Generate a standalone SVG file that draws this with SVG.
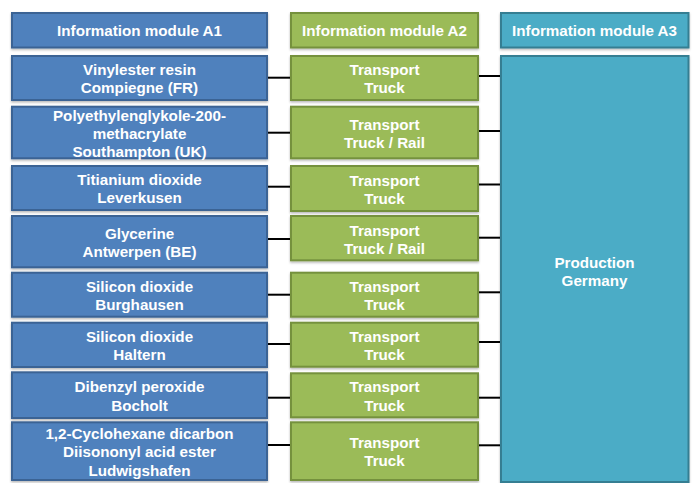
<svg xmlns="http://www.w3.org/2000/svg" width="695" height="483" viewBox="0 0 695 483">
<defs>
<filter id="sh" x="-5%" y="-10%" width="110%" height="130%">
<feDropShadow dx="0" dy="1.5" stdDeviation="0.8" flood-color="#000" flood-opacity="0.28"/>
</filter>
</defs>
<style>
.b{fill:#4F81BD;stroke:#3A6394;stroke-width:2}
.g{fill:#9BBB59;stroke:#74913E;stroke-width:2}
.t{fill:#4BACC6;stroke:#347E92;stroke-width:2}
rect{filter:url(#sh)}
text{font-family:"Liberation Sans",Arial,sans-serif;font-weight:bold;font-size:15.2px;fill:#fff;text-anchor:middle}
.c line{stroke:#000;stroke-width:2}
</style>
<rect width="695" height="483" fill="#fff" style="filter:none"/>
<g class="c" id="connectors">
<line x1="267" y1="77.7" x2="291" y2="77.7"/>
<line x1="478" y1="76" x2="501" y2="76"/>
<line x1="267" y1="132.7" x2="291" y2="132.7"/>
<line x1="478" y1="131" x2="501" y2="131"/>
<line x1="267" y1="186.7" x2="291" y2="186.7"/>
<line x1="478" y1="184.5" x2="501" y2="184.5"/>
<line x1="267" y1="239" x2="291" y2="239"/>
<line x1="478" y1="237.7" x2="501" y2="237.7"/>
<line x1="267" y1="294.7" x2="291" y2="294.7"/>
<line x1="478" y1="292.3" x2="501" y2="292.3"/>
<line x1="267" y1="344" x2="291" y2="344"/>
<line x1="478" y1="342" x2="501" y2="342"/>
<line x1="267" y1="397.7" x2="291" y2="397.7"/>
<line x1="478" y1="397.7" x2="501" y2="397.7"/>
<line x1="267" y1="445" x2="291" y2="445"/>
<line x1="478" y1="445.3" x2="501" y2="445.3"/>
</g>
<g id="hA1"><rect class="b" x="12" y="13" width="255" height="34.5"/><text x="139.5" y="35.8">Information module A1</text></g>
<g id="hA2"><rect class="g" x="291" y="13" width="187" height="34.5"/><text x="384.5" y="35.8">Information module A2</text></g>
<g id="hA3"><rect class="t" x="501" y="13" width="187.5" height="34.5"/><text x="594.5" y="35.8">Information module A3</text></g>

<g id="a1"><rect class="b" x="12" y="56" width="255" height="44"/><text x="139.5" y="74.7">Vinylester resin</text><text x="139.5" y="93">Compiegne (FR)</text></g>
<g id="a2"><rect class="b" x="12" y="106.7" width="255" height="51.6"/><text x="139.5" y="120.5">Polyethylenglykole-200-</text><text x="139.5" y="138.8">methacrylate</text><text x="139.5" y="157.2">Southampton (UK)</text></g>
<g id="a3"><rect class="b" x="12" y="166" width="255" height="44"/><text x="139.5" y="184.7">Titianium dioxide</text><text x="139.5" y="203">Leverkusen</text></g>
<g id="a4"><rect class="b" x="12" y="216" width="255" height="51.3"/><text x="139.5" y="238.7">Glycerine</text><text x="139.5" y="257.2">Antwerpen (BE)</text></g>
<g id="a5"><rect class="b" x="12" y="272.7" width="255" height="44"/><text x="139.5" y="291.5">Silicon dioxide</text><text x="139.5" y="309.8">Burghausen</text></g>
<g id="a6"><rect class="b" x="12" y="322.7" width="255" height="44.3"/><text x="139.5" y="341.7">Silicon dioxide</text><text x="139.5" y="360">Haltern</text></g>
<g id="a7"><rect class="b" x="12" y="372.3" width="255" height="45.7"/><text x="139.5" y="392.2">Dibenzyl peroxide</text><text x="139.5" y="410.5">Bocholt</text></g>
<g id="a8"><rect class="b" x="12" y="422.3" width="255" height="57.7"/><text x="139.5" y="439">1,2-Cyclohexane dicarbon</text><text x="139.5" y="457.3">Diisononyl acid ester</text><text x="139.5" y="475.6">Ludwigshafen</text></g>

<g id="t1"><rect class="g" x="291" y="56" width="187" height="44"/><text x="384.5" y="74.7">Transport</text><text x="384.5" y="93">Truck</text></g>
<g id="t2"><rect class="g" x="291" y="106.7" width="187" height="51.6"/><text x="384.5" y="129.7">Transport</text><text x="384.5" y="147.8">Truck / Rail</text></g>
<g id="t3"><rect class="g" x="291" y="166" width="187" height="45"/><text x="384.5" y="185.5">Transport</text><text x="384.5" y="203.7">Truck</text></g>
<g id="t4"><rect class="g" x="291" y="216" width="187" height="44.3"/><text x="384.5" y="235.5">Transport</text><text x="384.5" y="253.7">Truck / Rail</text></g>
<g id="t5"><rect class="g" x="291" y="272.7" width="187" height="44"/><text x="384.5" y="291.5">Transport</text><text x="384.5" y="309.8">Truck</text></g>
<g id="t6"><rect class="g" x="291" y="322.7" width="187" height="44"/><text x="384.5" y="341.5">Transport</text><text x="384.5" y="359.8">Truck</text></g>
<g id="t7"><rect class="g" x="291" y="373.3" width="187" height="44"/><text x="384.5" y="392.2">Transport</text><text x="384.5" y="410.5">Truck</text></g>
<g id="t8"><rect class="g" x="291" y="422.3" width="187" height="57.7"/><text x="384.5" y="447.7">Transport</text><text x="384.5" y="466">Truck</text></g>

<g id="prod"><rect class="t" x="501" y="56" width="187.5" height="426"/><text x="594.5" y="268">Production</text><text x="594.5" y="286.4">Germany</text></g>
</svg>
